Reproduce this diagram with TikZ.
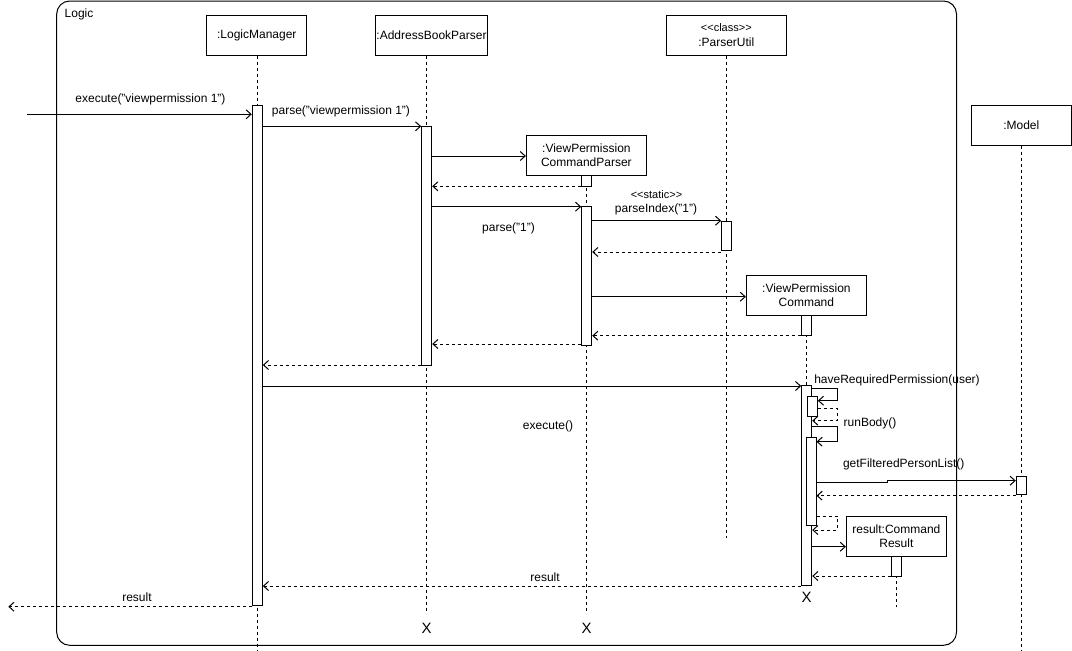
\documentclass[tikz,border=0pt]{standalone}
\usepackage{fontspec}
\setmainfont{Liberation Sans}
\usetikzlibrary{arrows.meta}
\begin{document}
\begin{tikzpicture}[x=1pt,y=-1pt,
  font=\fontsize{12}{14}\selectfont,
  obj/.style={draw,line width=1pt,minimum width=100pt,minimum height=40pt,align=center,inner sep=1pt,fill=white},
  act/.style={draw,fill=white,line width=1pt,minimum width=10pt,inner sep=0pt,anchor=north},
  life/.style={line width=1pt,dash pattern=on 3pt off 3pt},
  msg/.style={line width=1pt,-{Straight Barb[length=5pt,width=9pt,line width=1pt]}},
  ret/.style={msg,dash pattern=on 3pt off 3pt},
  lbl/.style={inner sep=0pt},
  small/.style={font=\fontsize{11}{12}\selectfont},
  xmark/.style={inner sep=0pt,font=\fontsize{15}{15}\selectfont},
]
\useasboundingbox (0,0) rectangle (1072,651);
% frame
\node[draw,rounded corners=13pt,line width=1pt,minimum width=899.8pt,minimum height=644.3pt,inner sep=0pt] (frame) at (506.6,323.15) {};
\node[lbl,anchor=west] (logic) at (64.5,14) {Logic};

% lifeline ends
\coordinate (eLM) at (257.3,651);
\coordinate (eABP) at (426.7,612);
\coordinate (ePU) at (726.7,538);
\coordinate (eVPCP) at (586.7,612);
\coordinate (eVPC) at (806.7,586);
\coordinate (eM) at (1021.3,651);
\coordinate (eCR) at (896.7,606.7);

% objects
\node[obj] (LM) at (256.8,35.2) {:LogicManager};
\node[obj,minimum width=111pt] (ABP) at (431.5,35.2) {:AddressBookParser};
\node[obj,minimum width=120pt] (PU) at (726.3,35.2) {{\fontsize{11}{12}\selectfont <{}<class>{}>}\\[1pt]:ParserUtil};
\node[obj,minimum width=120pt] (VPCP) at (586.4,155.4) {:ViewPermission\\CommandParser};
\node[obj,minimum width=120pt] (VPC) at (806.4,295.5) {:ViewPermission\\Command};
\node[obj] (M) at (1021.3,125) {:Model};
\node[obj] (CR) at (896.4,536.3) {result:Command\\Result};

% lifelines
\draw[life] (LM.south -| eLM) -- (eLM);
\draw[life] (ABP.south -| eABP) -- (eABP);
\draw[life] (PU.south -| ePU) -- (ePU);
\draw[life] (VPCP.south -| eVPCP) -- (eVPCP);
\draw[life] (VPC.south -| eVPC) -- (eVPC);
\draw[life] (M.south -| eM) -- (eM);
\draw[life] (CR.south -| eCR) -- (eCR);

% activations
\node[act,minimum height=499.7pt] (aLM) at (257.3,105.3) {};
\node[act,minimum height=239.6pt] (aABP) at (426.7,125.7) {};
\node[act,minimum height=10.7pt] (aVPCP0) at (586.7,175) {};
\node[act,minimum height=139.6pt] (aVPCP) at (586.7,205.7) {};
\node[act,minimum height=29.6pt] (aPU) at (726.7,220.7) {};
\node[act,minimum height=20pt] (aVPC0) at (806.7,315.3) {};
\node[act,minimum height=200pt] (aVPC) at (806.7,385) {};
\node[act,minimum height=20pt] (aV1) at (812.3,396) {};
\node[act,minimum height=87.7pt] (aV2) at (811,437.3) {};
\node[act,minimum height=18pt] (aM) at (1021.3,476.3) {};
\node[act,minimum height=19.7pt] (aCR) at (896.7,556.3) {};

% destruction marks
\node[xmark] (xABP) at (426.7,628) {X};
\node[xmark] (xVPCP) at (586.7,628) {X};
\node[xmark] (xVPC) at (806.7,597.3) {X};

% messages
\coordinate (start) at (27.3,114.3);
\coordinate (finish) at (8.3,606.7);
\draw[msg] (start) -- (aLM.west |- start);
\node[lbl] (l1) at (150.5,99) {execute("viewpermission 1")};

\draw[msg] (aLM.east |- 0,126.3) -- (aABP.west |- 0,126.3);
\node[lbl] (l2) at (341,111) {parse("viewpermission 1")};

\draw[msg] (aABP.east |- 0,156) -- (VPCP.west |- 0,156);
\draw[ret] (aVPCP0.west |- 0,186.3) -- (aABP.east |- 0,186.3);
\draw[msg] (aABP.east |- 0,206.7) -- (aVPCP.west |- 0,206.7);
\node[lbl] (l3) at (508.5,228) {parse("1")};

\draw[msg] (aVPCP.east |- 0,220.7) -- (aPU.west |- 0,220.7);
\node[lbl,small] (l4a) at (656.5,195) {<{}<static>{}>};
\node[lbl] (l4b) at (656,209.3) {parseIndex("1")};
\draw[ret] (aPU.west |- 0,252) -- (aVPCP.east |- 0,252);

\draw[msg] (aVPCP.east |- 0,296.7) -- (VPC.west |- 0,296.7);
\draw[ret] (aVPC0.west |- 0,335.7) -- (aVPCP.east |- 0,335.7);
\draw[ret] (aVPCP.west |- 0,344) -- (aABP.east |- 0,344);
\draw[ret] (aABP.west |- 0,365) -- (aLM.east |- 0,365);

\draw[msg] (aLM.east |- 0,386) -- (aVPC.west |- 0,386);
\node[lbl] (l5) at (548,426) {execute()};

\draw[msg] (aVPC.east |- 0,388.3) -- (837.3,388.3) -- (837.3,400.7) -- (aV1.east |- 0,400.7);
\node[lbl] (l6) at (897,380) {haveRequiredPermission(user)};
\draw[ret] (aV1.east |- 0,408.3) -- (837.3,408.3) -- (837.3,420.7) -- (aVPC.east |- 0,420.7);

\draw[msg] (aVPC.east |- 0,426.7) -- (837.3,426.7) -- (837.3,441.7) -- (aV2.east |- 0,441.7);
\node[lbl] (l7) at (870,423.3) {runBody()};

\draw[msg] (aV2.east |- 0,482.3) -- (887.3,482.3) -- (887.3,480.7) -- (aM.west |- 0,480.7);
\node[lbl] (l8) at (903.7,464) {getFilteredPersonList()};
\draw[ret] (aM.west |- 0,495.7) -- (aV2.east |- 0,495.7);
\draw[ret] (aV2.east |- 0,516) -- (837.3,516) -- (837.3,530) -- (aVPC.east |- 0,530);

\draw[msg] (aVPC.east |- 0,546.7) -- (CR.west |- 0,546.7);
\draw[ret] (aCR.west |- 0,576) -- (aVPC.east |- 0,576);
\draw[ret] (aVPC.west |- 0,586) -- (aLM.east |- 0,586);
\node[lbl] (l9) at (545,577) {result};
\draw[ret] (aLM.west |- finish) -- (finish);
\node[lbl] (l10) at (137,597.7) {result};
\end{tikzpicture}
\end{document}
